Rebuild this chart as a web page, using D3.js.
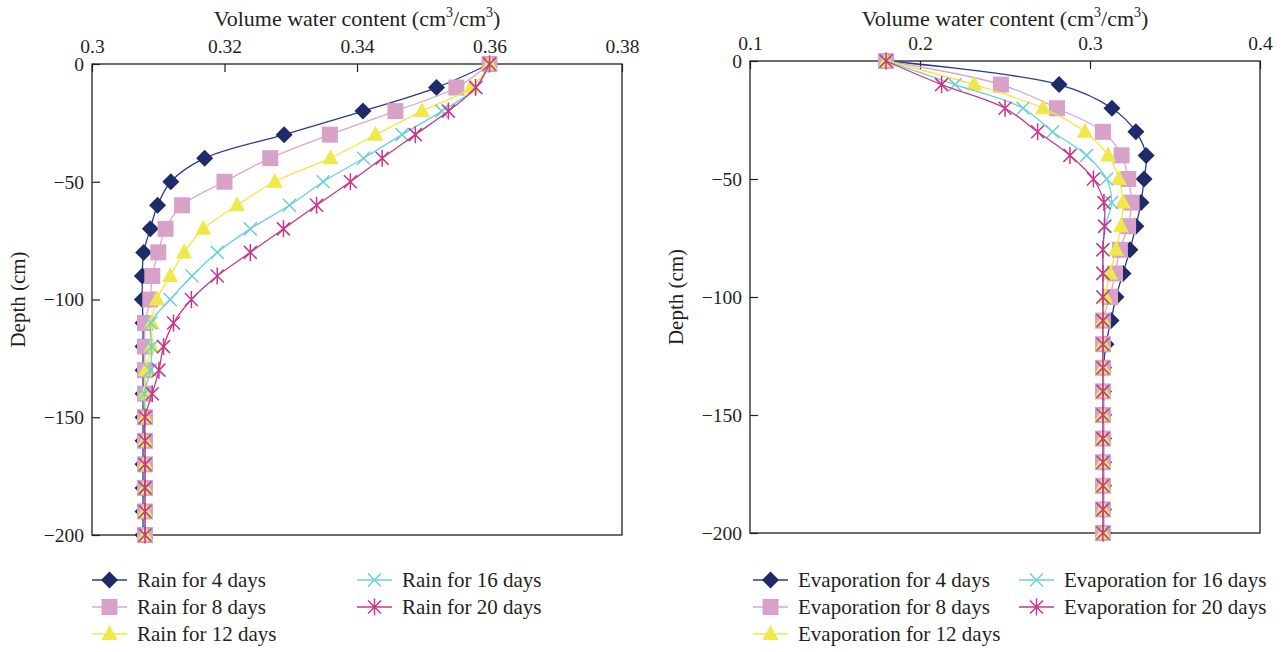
<!DOCTYPE html>
<html>
<head>
<meta charset="utf-8">
<script src="https://cdn.jsdelivr.net/npm/d3@7"></script>
<style>
    body{margin:0;background:#fff;}
    svg text{font-family:"Liberation Serif","DejaVu Serif",serif;fill:#231f20;}
</style>
</head>
<body>
<svg id="chart" width="1287" height="652"></svg>
<script>
// depth of each reading (cm)
const depth = [0,-10,-20,-30,-40,-50,-60,-70,-80,-90,-100,-110,-120,-130,-140,-150,-160,-170,-180,-190,-200];

// rain infiltration profiles (cm3/cm3)
const rain4  = [0.36,0.352,0.3409,0.329,0.317,0.3119,0.3099,0.3088,0.3078,0.3076,0.3076,0.3077,0.3077,0.3077,0.3077,0.3077,0.3077,0.3077,0.3077,0.3077,0.3077];
const rain8  = [0.36,0.355,0.3458,0.3359,0.3269,0.32,0.3136,0.3111,0.31,0.3091,0.3088,0.308,0.308,0.308,0.308,0.308,0.308,0.308,0.308,0.308,0.308];
const rain12 = [0.36,0.3572,0.3498,0.3428,0.336,0.3276,0.3219,0.3168,0.3139,0.3118,0.3098,0.309,0.309,0.3081,0.308,0.308,0.308,0.308,0.308,0.308,0.308];
const rain16 = [0.36,0.358,0.3528,0.3468,0.341,0.3349,0.3298,0.3239,0.3189,0.3151,0.3118,0.3089,0.309,0.3088,0.3079,0.308,0.308,0.308,0.308,0.308,0.308];
const rain20 = [0.36,0.3579,0.3538,0.3488,0.3438,0.339,0.3339,0.3289,0.3239,0.3189,0.315,0.3123,0.3108,0.3101,0.3091,0.308,0.308,0.308,0.308,0.308,0.308];

// evaporation profiles (cm3/cm3)
const evap4  = [0.18,0.2818,0.3129,0.327,0.333,0.3318,0.33,0.327,0.3235,0.3194,0.3153,0.3124,0.3094,0.308,0.308,0.308,0.308,0.308,0.308,0.308,0.308];
const evap8  = [0.18,0.2476,0.2806,0.3076,0.3186,0.3225,0.3245,0.3224,0.3176,0.3147,0.3118,0.3076,0.3076,0.3076,0.3076,0.3076,0.3076,0.3076,0.3076,0.3076,0.3076];
const evap12 = [0.18,0.2318,0.2724,0.297,0.3106,0.317,0.3194,0.3182,0.3153,0.3118,0.3088,0.3076,0.3076,0.3076,0.3076,0.3076,0.3076,0.3076,0.3076,0.3076,0.3076];
const evap16 = [0.18,0.2206,0.2606,0.278,0.298,0.3098,0.3127,0.309,0.3076,0.3076,0.3076,0.3076,0.3076,0.3076,0.3076,0.3076,0.3076,0.3076,0.3076,0.3076,0.3076];
const evap20 = [0.18,0.2127,0.25,0.2692,0.2882,0.302,0.3082,0.3085,0.3076,0.3076,0.3076,0.3076,0.3076,0.3076,0.3076,0.3076,0.3076,0.3076,0.3076,0.3076,0.3076];

const rainNames = ['Rain for 4 days','Rain for 8 days','Rain for 12 days','Rain for 16 days','Rain for 20 days'];
const evapNames = ['Evaporation for 4 days','Evaporation for 8 days','Evaporation for 12 days','Evaporation for 16 days','Evaporation for 20 days'];

const rainTicks = [0.3,0.32,0.34,0.36,0.38];
const evapTicks = [0.1,0.2,0.3,0.4];
const depthTicks = [0,-50,-100,-150,-200];

// one style per series, same order in both panels
const styles = [
    {shape:'diamond', line:'#2b3990', fill:'#1f2a68'},
    {shape:'square',  line:'#dea6cc', fill:'#d8a1c7'},
    {shape:'triangle',line:'#f1e83e', fill:'#eee84a'},
    {shape:'cross',   line:'#6ccfda', fill:'#6ccfda'},
    {shape:'star',    line:'#c6388b', fill:'#c6388b'}
];

function markerPath(shape){
    switch (shape){
        case 'diamond': return 'M0,-8.5L8.5,0L0,8.5L-8.5,0Z';
        case 'square': return 'M-8,-8H8V8H-8Z';
        case 'triangle': return 'M0,-9L8,6L-8,6Z';
        case 'cross': return 'M-6.5,-6.5L6.5,6.5M6.5,-6.5L-6.5,6.5';
        default: return 'M-6.5,-6.5L6.5,6.5M6.5,-6.5L-6.5,6.5M0,-8.5V8.5';
    }
}

let ProfilePanel = function() {
    let graphicopt = {
            margin: {top: 64, left: 92},
            width: 530,
            height: 471,
            xdomain: [0.3, 0.38],
            ydomain: [-200, 0],
            xticks: [],
            yticks: [],
            titleY: 26,
            legend: {x: [92, 357], y: [580, 607, 634]}
        },
        svg, g, data = [], names = [];
    let panel = {};
    let x = d3.scaleLinear(), y = d3.scaleLinear();

    panel.draw = function () {
        x.domain(graphicopt.xdomain).range([0, graphicopt.width]);
        y.domain(graphicopt.ydomain).range([graphicopt.height, 0]);

        g = svg.append('g')
            .attr('transform', `translate(${graphicopt.margin.left},${graphicopt.margin.top})`);

        // inward ticks on top and left
        let xAxis = d3.axisTop(x).tickValues(graphicopt.xticks)
            .tickSize(-8).tickSizeOuter(0).tickPadding(11)
            .tickFormat(d3.format('~g'));
        let yAxis = d3.axisLeft(y).tickValues(graphicopt.yticks)
            .tickSize(-8).tickSizeOuter(0).tickPadding(8)
            .tickFormat(d3.format('d'));

        let gx = g.append('g').call(xAxis);
        let gy = g.append('g').call(yAxis);
        [gx, gy].forEach(a => {
            a.select('.domain').remove();
            a.selectAll('line').attr('stroke', '#231f20').attr('stroke-width', 1.2);
            a.selectAll('text').attr('font-size', 19.5).attr('fill', '#231f20')
                .style('font-family', '"Liberation Serif",serif');
        });

        g.append('rect')
            .attr('width', graphicopt.width).attr('height', graphicopt.height)
            .attr('fill', 'none').attr('stroke', '#231f20').attr('stroke-width', 1.3);

        let title = g.append('text')
            .attr('x', graphicopt.width / 2).attr('y', graphicopt.titleY - graphicopt.margin.top)
            .attr('text-anchor', 'middle').attr('font-size', 22);
        title.append('tspan').text('Volume water content (cm');
        title.append('tspan').text('3').attr('font-size', 14).attr('dy', -9);
        title.append('tspan').text('/cm').attr('dy', 9);
        title.append('tspan').text('3').attr('font-size', 14).attr('dy', -9);
        title.append('tspan').text(')').attr('dy', 9);

        // y title sits 74px left of the plot
        g.append('text')
            .attr('transform', `translate(-74,${graphicopt.height / 2}) rotate(-90)`)
            .attr('text-anchor', 'middle').attr('dy', '0.33em').attr('font-size', 21)
            .text('Depth (cm)');

        let line = d3.line()
            .x(d => x(d.v))
            .y(d => y(d.d))
            .curve(d3.curveCatmullRom.alpha(0.5));

        data.forEach((series, i) => {
            let st = styles[i];
            let pts = series.map((v, k) => ({v: v, d: depth[k]}));
            let sg = g.append('g').attr('class', 'series');
            sg.append('path')
                .attr('d', line(pts))
                .attr('fill', 'none')
                .attr('stroke', st.line)
                .attr('stroke-width', 1.3);
            sg.selectAll('.mark')
                .data(pts)
                .enter()
                .append('path')
                .attr('class', 'mark')
                .attr('transform', d => `translate(${x(d.v)},${y(d.d)})`)
                .attr('d', markerPath(st.shape))
                .attr('fill', (st.shape === 'cross' || st.shape === 'star') ? 'none' : st.fill)
                .attr('stroke', (st.shape === 'cross' || st.shape === 'star') ? st.line : 'none')
                .attr('stroke-width', 1.5);
        });

        // legend, 3 rows in first column then 2 in second
        let lg = svg.append('g');
        names.forEach((name, i) => {
            let st = styles[i];
            let col = i < 3 ? 0 : 1, row = i < 3 ? i : i - 3;
            let lx = graphicopt.legend.x[col], ly = graphicopt.legend.y[row];
            let item = lg.append('g').attr('transform', `translate(${lx},${ly})`);
            item.append('line').attr('x1', 0).attr('x2', 35)
                .attr('stroke', st.line).attr('stroke-width', 1.5);
            item.append('path')
                .attr('transform', 'translate(17.5,0)')
                .attr('d', markerPath(st.shape))
                .attr('fill', (st.shape === 'cross' || st.shape === 'star') ? 'none' : st.fill)
                .attr('stroke', (st.shape === 'cross' || st.shape === 'star') ? st.line : 'none')
                .attr('stroke-width', 1.5);
            item.append('text')
                .attr('x', 45).attr('dy', '0.33em')
                .attr('font-size', 21)
                .text(name);
        });
        return panel;
    };

    panel.graphicopt = function (_) {
        if (arguments.length) {
            for (let i in _) {
                if ('undefined' !== typeof _[i]) {
                    graphicopt[i] = _[i];
                }
            }
            return panel;
        } else {
            return graphicopt;
        }
    };
    panel.svg = function (_) {
        return arguments.length ? (svg = _, panel) : svg;
    };
    panel.data = function (_) {
        return arguments.length ? (data = _, panel) : data;
    };
    panel.names = function (_) {
        return arguments.length ? (names = _, panel) : names;
    };
    return panel;
};

const svg = d3.select('#chart');

ProfilePanel()
    .svg(svg)
    .graphicopt({
        margin: {top: 64, left: 92}, width: 530, height: 471,
        xdomain: [0.3, 0.38], xticks: rainTicks, yticks: depthTicks,
        legend: {x: [92, 357], y: [580, 607, 634]}
    })
    .data([rain4, rain8, rain12, rain16, rain20])
    .names(rainNames)
    .draw();

ProfilePanel()
    .svg(svg)
    .graphicopt({
        margin: {top: 61, left: 750}, width: 510, height: 472,
        xdomain: [0.1, 0.4], xticks: evapTicks, yticks: depthTicks,
        legend: {x: [753, 1019], y: [580, 607, 634]}
    })
    .data([evap4, evap8, evap12, evap16, evap20])
    .names(evapNames)
    .draw();
</script>
</body>
</html>
